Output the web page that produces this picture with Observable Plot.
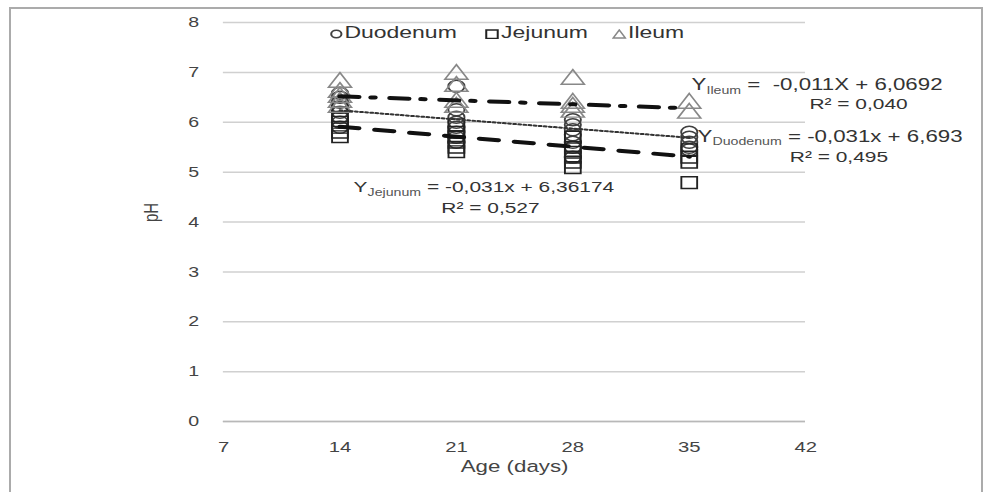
<!DOCTYPE html>
<html>
<head>
<meta charset="utf-8">
<script src="https://cdn.jsdelivr.net/npm/d3@7"></script>
<script src="https://cdn.jsdelivr.net/npm/@observablehq/plot@0.6"></script>
<style>
  html, body { margin: 0; padding: 0; background: #fff; width: 986px; height: 492px; overflow: hidden; }
  #frame { position: absolute; left: 9px; top: 7px; width: 974px; height: 500px; border: 2px solid #ababab; border-bottom: none; box-sizing: border-box; }
  #wrap { position: absolute; left: 0; top: 0; width: 730px; height: 492px; transform-origin: 0 0; }
  #wrap svg text { white-space: pre; }
  .leg { position: absolute; top: 22px; font: 17px "Liberation Sans", Arial, sans-serif; color: #333; white-space: nowrap; line-height: 22px; }
  .leg svg { vertical-align: -1px; margin-right: 1px; }
</style>
</head>
<body>
<div id="frame"></div>
<div id="wrap"></div>
<script>
// ---- data ----
const days = [14, 21, 28, 35];
const duodenum = [
  [6.58, 6.5, 6.4, 6.3, 6.2, 6.1, 6.0, 5.9],
  [6.72, 6.25, 6.1, 6.0, 5.9, 5.8, 5.7, 5.6],
  [6.05, 5.95, 5.85, 5.75, 5.6, 5.5, 5.3],
  [5.8, 5.7, 5.6, 5.5, 5.45]
];
const jejunum = [
  [6.3, 6.1, 6.0, 5.9, 5.8, 5.71],
  [5.95, 5.8, 5.7, 5.6, 5.5, 5.41],
  [5.7, 5.5, 5.4, 5.3, 5.2, 5.09],
  [5.45, 5.3, 5.2, 4.79]
];
const ileum = [
  [6.8, 6.6, 6.5, 6.4, 6.3],
  [6.96, 6.72, 6.4, 6.3],
  [6.86, 6.38, 6.3, 6.2],
  [6.38, 6.18]
];
const trendDays = [14, 35];
const trendDuodenum = [6.24, 5.69];
const trendJejunum = [5.91, 5.31];
const trendIleum = [6.52, 6.28];
const xTicks = [7, 14, 21, 28, 35, 42];
const yTicks = [0, 1, 2, 3, 4, 5, 6, 7, 8];
const seriesNames = ["Duodenum", "Jejunum", "Ileum"];
// annotations (anchor in data units)
const eqText = ["Y|Ileum| =  -0,011X + 6,0692", "Y|Duodenum| = -0,031x + 6,693", "Y|Jejunum| = -0,031x + 6,36174"];
const eqX = [35.14, 35.5, 14.82];
const eqY = [6.76, 5.72, 4.71];
const r2Text = ["R² = 0,040", "R² = 0,495", "R² = 0,527"];
const r2X = [45.18, 44.0, 23.05];
const r2Y = [6.37, 5.3, 4.28];

// ---- build tables ----
const pts = [];
days.forEach((d, i) => {
  duodenum[i].forEach(v => pts.push({organ: "Duodenum", day: d, ph: v}));
  jejunum[i].forEach(v => pts.push({organ: "Jejunum", day: d, ph: v}));
  ileum[i].forEach(v => pts.push({organ: "Ileum", day: d, ph: v}));
});
const trend = arr => trendDays.map((d, i) => ({x: d, y: arr[i]}));
const eqs = eqText.map((t, i) => ({t, x: eqX[i], y: eqY[i], i}));
const r2s = r2Text.map((t, i) => ({t, x: r2X[i], y: r2Y[i]}));

const W = 730, S = 986 / W;
const font = '"Liberation Sans", Arial, sans-serif';

const chart = Plot.plot({
  width: W, height: 492,
  marginLeft: 165, marginRight: 134, marginTop: 22, marginBottom: 71,
  style: {fontFamily: font, background: "transparent", overflow: "visible"},
  x: {domain: [7, 42], ticks: xTicks},
  y: {domain: [0, 8], ticks: yTicks},
  marks: [
    Plot.gridY(yTicks, {stroke: "#d0d0d0", strokeOpacity: 1, strokeWidth: 1.5}),
    Plot.ruleY([0], {stroke: "#b8b8b8", strokeWidth: 1.5}),
    Plot.axisX(xTicks, {tickSize: 0, tickPadding: 20, fontSize: 15, fill: "#444", label: null, tickFormat: d => String(d)}),
    Plot.axisY(yTicks, {tickSize: 0, tickPadding: 18, fontSize: 14.5, fill: "#444", label: null, tickFormat: d => String(d)}),
    Plot.text(["Age (days)"], {frameAnchor: "bottom", dy: 50, fontSize: 16.5, fill: "#444", text: d => d}),
    Plot.text(["pH"], {frameAnchor: "left", dx: -53, rotate: -90, fontSize: 15, fill: "#444", text: d => d}),
    Plot.dot(pts.filter(d => d.organ === "Duodenum"), {x: "day", y: "ph", symbol: "circle", r: 6, stroke: "#404040", strokeWidth: 1.4, fill: "none"}),
    Plot.dot(pts.filter(d => d.organ === "Jejunum"), {x: "day", y: "ph", symbol: "square", r: 6.6, stroke: "#222", strokeWidth: 1.4, fill: "none"}),
    Plot.dot(pts.filter(d => d.organ === "Ileum"), {x: "day", y: "ph", symbol: "triangle", r: 6.3, stroke: "#888", strokeWidth: 1.4, fill: "none"}),
    Plot.line(trend(trendIleum), {x: "x", y: "y", stroke: "#111", strokeWidth: 4, strokeDasharray: "14,9,3,11"}),
    Plot.line(trend(trendDuodenum), {x: "x", y: "y", stroke: "#333", strokeWidth: 2, strokeDasharray: "1.6,2.2"}),
    Plot.line(trend(trendJejunum), {x: "x", y: "y", stroke: "#111", strokeWidth: 4, strokeDasharray: "14,12"}),
    Plot.text(eqs.filter(d => d.i < 2), {x: "x", y: "y", text: "t", textAnchor: "start", lineAnchor: "middle", fontSize: 16.5, fill: "#333"}),
    Plot.text(eqs.filter(d => d.i === 2), {x: "x", y: "y", text: "t", textAnchor: "start", lineAnchor: "middle", fontSize: 15.5, fill: "#333"}),
    Plot.text(r2s, {x: "x", y: "y", text: "t", textAnchor: "middle", lineAnchor: "middle", fontSize: 15.5, fill: "#333"})
  ]
});

// subscripts for the equations
d3.select(chart).selectAll("text")
  .filter(function () { return this.textContent.includes("|"); })
  .each(function () {
    const parts = this.textContent.split("|");
    const sel = d3.select(this);
    sel.text(null);
    sel.append("tspan").text(parts[0]);
    sel.append("tspan").attr("font-size", 10.5).attr("fill", "#555").attr("dy", 4).text(parts[1]);
    sel.append("tspan").attr("dy", -4).text(parts[2]);
  });

const wrap = document.getElementById("wrap");
wrap.style.transform = `scaleX(${S})`;
wrap.appendChild(chart);

// legend
const legendX = [244, 359, 453];
const sym = {
  Duodenum: '<svg width="10" height="10"><circle cx="5" cy="5" r="3.8" fill="none" stroke="#404040" stroke-width="1.5"/></svg>',
  Jejunum: '<svg width="11" height="10"><rect x="1" y="1" width="8.5" height="8.5" fill="none" stroke="#222" stroke-width="1.5"/></svg>',
  Ileum: '<svg width="11" height="10"><path d="M5.5,1 L10,9 L1,9 Z" fill="none" stroke="#888" stroke-width="1.3"/></svg>'
};
seriesNames.forEach((n, i) => {
  const el = document.createElement("div");
  el.className = "leg";
  el.style.left = legendX[i] + "px";
  el.innerHTML = sym[n] + n;
  wrap.appendChild(el);
});
</script>
</body>
</html>
